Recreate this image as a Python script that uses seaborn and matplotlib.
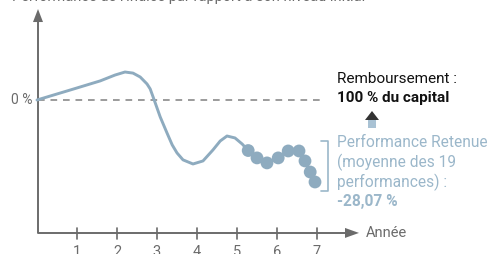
import matplotlib
matplotlib.use("Agg")
import matplotlib.pyplot as plt
import pandas as pd
import seaborn as sns
from matplotlib.patches import Polygon, Rectangle

# index path (year, performance in %)
curve_years = [0.0, 0.83, 1.58, 1.95, 2.2, 2.4, 2.58, 2.75, 2.83, 2.93, 3.08, 3.25,
               3.38, 3.5, 3.65, 3.9, 4.15, 4.4, 4.58, 4.75, 4.95, 5.13, 5.28]
curve_perf = [0.0, 4.6, 8.8, 11.5, 12.9, 12.4, 10.6, 7.4, 5.1, 0.0, -7.8, -15.2,
              -20.7, -24.4, -27.6, -29.5, -28.1, -23.0, -18.9, -16.6, -17.5, -20.3, -23.3]

# observation dates used for the average
obs_years = [5.28, 5.5, 5.75, 6.03, 6.28, 6.55, 6.7, 6.83, 6.95]
obs_perf = [-23.3, -26.7, -29.0, -26.7, -23.5, -23.5, -28.1, -33.2, -37.8]

year_ticks = [1, 2, 3, 4, 5, 6, 7]
zero_label = "0 %"
title = "Performance de l'Indice par rapport à son niveau initial"
axis_label = "Année"
repay_lines = ["Remboursement :", "100 % du capital"]
retained_lines = ["Performance Retenue", "(moyenne des 19", "performances) :", "-28,07 %"]

BLUE = "#8eabbf"
TEXT_BLUE = "#9bb7ca"
GREY = "#6b6b6b"

sns.set_style("white")
plt.rcParams["font.family"] = ["Roboto", "DejaVu Sans"]

fig = plt.figure(figsize=(4.89, 2.54), dpi=100)
ax = fig.add_axes([0, 0, 1, 1])
# 40 px per year, zero line at 100 px from the top, ~2.17 px per %
ax.set_xlim(-0.925, 11.3)
ax.set_ylim(-71.0, 46.1)
ax.axis("off")

py = lambda p: (100 - p) / 2.17  # pixel row -> %
px = lambda p: (p - 37) / 40     # pixel column -> year

# axes with arrows
y_base = py(233)
ax.plot([px(38), px(38)], [y_base, py(22)], color=GREY, lw=1.4, solid_capstyle="butt")
ax.add_patch(Polygon([[px(33), py(22)], [px(43), py(22)], [px(38), py(9)]],
                     closed=True, color=GREY, lw=0))
ax.plot([px(38), px(346)], [y_base, y_base], color=GREY, lw=1.4)
ax.add_patch(Polygon([[px(345), py(228)], [px(345), py(238)], [px(359), y_base]],
                     closed=True, color=GREY, lw=0))
for t in year_ticks:
    ax.plot([t, t], [py(228), py(239)], color=GREY, lw=1.2)
    ax.text(t, py(245), str(t), ha="center", va="top", fontsize=10.5, color=GREY)
ax.text(px(366), y_base, axis_label, ha="left", va="center", fontsize=10.5, color=GREY)

# zero line
ax.plot([px(38), px(320)], [0, 0], color="#8a8a8a", lw=1.2, ls=(0, (4, 3.5)))
ax.text(px(33), 0, zero_label, ha="right", va="center", fontsize=10, color=GREY)

# title, partly cut at the top as in the source
ax.text(px(12), py(-3), title, ha="left", va="center", fontsize=10.5, color=GREY)

curve = pd.DataFrame({"year": curve_years + obs_years[1:],
                      "perf": curve_perf + obs_perf[1:]})
sns.lineplot(data=curve, x="year", y="perf", ax=ax, color=BLUE, lw=2.1, sort=False)
obs = pd.DataFrame({"year": obs_years, "perf": obs_perf})
sns.scatterplot(data=obs, x="year", y="perf", ax=ax, color=BLUE, s=85,
                edgecolor="none", zorder=5)

# repayment annotation
ax.text(px(337), py(79), repay_lines[0], ha="left", va="center", fontsize=11, color="#111111")
ax.text(px(337), py(98), repay_lines[1], ha="left", va="center", fontsize=11,
        fontweight="bold", color="#111111")
ax.add_patch(Rectangle((px(368), py(128)), px(376) - px(368), py(119) - py(128),
                       color="#a9c2d4", lw=0))
ax.add_patch(Polygon([[px(365), py(120)], [px(379), py(120)], [px(372), py(111)]],
                     closed=True, color="#333333", lw=0))

# bracket + retained performance text
bx = px(328)
ax.plot([px(321), bx, bx, px(321)], [py(141), py(141), py(191), py(191)],
        color=TEXT_BLUE, lw=1.2)
for i, line in enumerate(retained_lines):
    ax.text(px(337), py(143 + 19.5 * i), line, ha="left", va="center", fontsize=11.2,
            color=TEXT_BLUE, fontweight="bold" if i == 3 else "normal")

fig.savefig("out.png", dpi=100)
